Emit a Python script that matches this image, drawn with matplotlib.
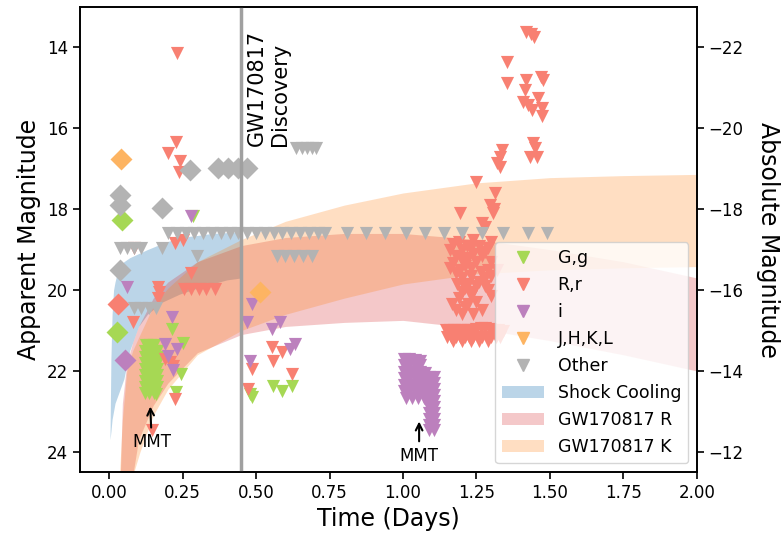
import matplotlib
matplotlib.use("Agg")
import matplotlib.pyplot as plt
from matplotlib.lines import Line2D
from matplotlib.patches import Patch

# offset between apparent and absolute magnitude used on the right axis
dist_mod = 36.0

# ---- model bands ----
sc_t     = [0.003, 0.006, 0.01, 0.015, 0.02, 0.03, 0.05, 0.07, 0.1, 0.13, 0.18, 0.24, 0.3, 0.35, 0.4, 0.45]
sc_upper = [23.6, 21.7, 20.6, 20.0, 19.8, 19.5, 19.3, 19.2, 19.1, 19.0, 18.85, 18.7, 18.65, 18.6, 18.58, 18.55]
sc_lower = [23.7, 23.5, 23.2, 23.0, 22.8, 22.6, 22.2, 21.5, 20.9, 20.6, 20.3, 20.1, 19.95, 19.85, 19.75, 19.7]

r_t     = [0.038, 0.045, 0.06, 0.08, 0.1, 0.15, 0.2, 0.3, 0.45, 0.6, 0.8, 1.0, 1.25, 1.5, 1.75, 2.0]
r_upper = [24.6, 22.8, 21.8, 21.3, 20.9, 20.2, 19.8, 19.3, 18.9, 18.7, 18.6, 18.6, 18.75, 19.0, 19.3, 19.7]
r_lower = [24.6, 24.6, 24.6, 24.6, 23.7, 22.85, 22.3, 21.55, 21.1, 20.9, 20.8, 20.75, 20.95, 21.25, 21.6, 22.0]

k_t     = [0.035, 0.045, 0.06, 0.08, 0.105, 0.15, 0.2, 0.3, 0.45, 0.6, 0.8, 1.0, 1.25, 1.5, 1.75, 2.0]
k_upper = [24.6, 23.2, 22.0, 21.5, 21.1, 20.4, 19.95, 19.3, 18.75, 18.3, 17.9, 17.6, 17.35, 17.22, 17.17, 17.14]
k_lower = [24.6, 24.6, 24.6, 24.6, 24.0, 23.1, 22.45, 21.6, 21.0, 20.6, 20.2, 19.85, 19.6, 19.5, 19.45, 19.42]

# ---- photometry: triangles = limits, diamonds = detections ----
g_lim = [(0.125, 21.35), (0.138, 21.35), (0.152, 21.35),
         (0.122, 21.5), (0.137, 21.5), (0.152, 21.5), (0.163, 21.5),
         (0.122, 21.65), (0.137, 21.65), (0.152, 21.65), (0.163, 21.65),
         (0.122, 21.8), (0.137, 21.8), (0.152, 21.8), (0.163, 21.8),
         (0.122, 21.95), (0.137, 21.95), (0.152, 21.95), (0.163, 21.95),
         (0.122, 22.1), (0.137, 22.1), (0.152, 22.1), (0.163, 22.1),
         (0.122, 22.25), (0.137, 22.25), (0.152, 22.25), (0.163, 22.25),
         (0.122, 22.4), (0.137, 22.4), (0.152, 22.4), (0.163, 22.4),
         (0.122, 22.55), (0.137, 22.55), (0.152, 22.55), (0.16, 22.58),
         (0.285, 18.18), (0.213, 20.97), (0.253, 21.3), (0.243, 22.08), (0.228, 22.53),
         (0.487, 22.65), (0.48, 22.58), (0.558, 22.38), (0.589, 22.5), (0.622, 22.38)]
g_det = [(0.044, 18.26), (0.026, 21.03)]

r_lim = [(0.23, 14.13), (0.227, 16.33), (0.2, 16.6), (0.24, 16.8), (0.238, 17.07),
         (0.083, 18.96), (0.225, 18.83), (0.25, 18.75), (0.28, 19.57),
         (0.165, 19.93), (0.17, 20.05), (0.165, 20.2),
         (0.255, 19.98), (0.28, 19.98), (0.305, 19.98), (0.33, 19.98), (0.36, 19.98),
         (0.08, 20.78), (0.19, 21.7), (0.207, 21.77), (0.218, 21.88), (0.224, 22.7), (0.145, 23.45),
         (0.554, 21.41), (0.589, 21.54), (0.558, 21.76), (0.487, 21.96), (0.622, 22.08), (0.473, 22.45),
         # late cluster
         (1.42, 13.62), (1.435, 13.68), (1.445, 13.75), (1.353, 14.35), (1.47, 14.72), (1.475, 14.8),
         (1.353, 14.87), (1.418, 14.8), (1.415, 15.05), (1.41, 15.34), (1.425, 15.42), (1.44, 15.54),
         (1.46, 15.24), (1.473, 15.5), (1.473, 15.7), (1.443, 16.36), (1.448, 16.48), (1.432, 16.7),
         (1.456, 16.72), (1.337, 16.53), (1.33, 16.7), (1.32, 16.85), (1.33, 16.95), (1.25, 17.33),
         (1.313, 17.6), (1.296, 17.89), (1.31, 18.0), (1.305, 18.1), (1.194, 18.09), (1.27, 18.34),
         (1.28, 18.45), (1.16, 19.0), (1.217, 18.92), (1.26, 18.9), (1.29, 18.95), (1.17, 19.32),
         (1.21, 19.4), (1.25, 19.3), (1.18, 19.57), (1.23, 19.65), (1.26, 19.8), (1.25, 19.9),
         (1.29, 19.99), (1.2, 20.06), (1.167, 20.35), (1.21, 20.43), (1.22, 19.2), (1.3, 19.3),
         (1.32, 19.5), (1.19, 18.8), (1.24, 18.75), (1.3, 18.8), (1.18, 19.15), (1.2, 19.25),
         (1.24, 19.1), (1.27, 19.15), (1.29, 19.5), (1.2, 19.7), (1.22, 19.85), (1.28, 19.7),
         (1.19, 20.2), (1.23, 20.15), (1.25, 20.3), (1.3, 20.15), (1.27, 20.5),
         (1.17, 18.85), (1.2, 19.0), (1.23, 18.95), (1.28, 19.05), (1.16, 19.45), (1.195, 19.5),
         (1.23, 19.45), (1.265, 19.55), (1.3, 19.65), (1.185, 19.85), (1.21, 19.95), (1.24, 20.05),
         (1.28, 19.9), (1.18, 20.5), (1.2, 20.6), (1.24, 20.6), (1.22, 20.35),
         # blob near 21 mag
         (1.145, 21.0), (1.16, 21.0), (1.175, 21.0), (1.19, 21.0), (1.205, 21.0), (1.22, 21.0),
         (1.235, 21.0), (1.25, 20.97), (1.265, 20.95), (1.28, 20.95), (1.295, 20.97), (1.31, 21.0),
         (1.325, 21.0), (1.34, 21.02),
         (1.15, 21.15), (1.165, 21.15), (1.18, 21.15), (1.195, 21.15), (1.21, 21.15), (1.225, 21.15),
         (1.24, 21.15), (1.255, 21.15), (1.27, 21.15), (1.285, 21.15), (1.3, 21.15), (1.315, 21.15),
         (1.33, 21.15), (1.17, 21.27), (1.2, 21.27), (1.23, 21.27), (1.26, 21.27), (1.29, 21.25)]
r_det = [(0.03, 20.35)]

i_lim = [(0.278, 18.18), (0.06, 19.93), (0.213, 20.67), (0.19, 21.34), (0.23, 21.46), (0.2, 21.64),
         (0.218, 21.97), (0.487, 20.35), (0.469, 20.78), (0.58, 20.78), (0.554, 20.97),
         (0.633, 21.34), (0.615, 21.46), (0.48, 21.76),
         # blob around one day
         (1.005, 21.7), (1.022, 21.7), (1.04, 21.72), (1.058, 21.75),
         (1.005, 21.86), (1.022, 21.86), (1.04, 21.86), (1.058, 21.86),
         (1.005, 22.02), (1.022, 22.02), (1.04, 22.02), (1.058, 22.02), (1.075, 22.05),
         (1.005, 22.18), (1.022, 22.18), (1.04, 22.18), (1.058, 22.18), (1.075, 22.2),
         (1.005, 22.34), (1.022, 22.34), (1.04, 22.34), (1.058, 22.34), (1.075, 22.34),
         (1.005, 22.5), (1.022, 22.5), (1.04, 22.5), (1.058, 22.5), (1.075, 22.5),
         (1.01, 22.66), (1.03, 22.66), (1.05, 22.66), (1.07, 22.66),
         (1.09, 22.15), (1.107, 22.15), (1.09, 22.3), (1.107, 22.3), (1.09, 22.45), (1.107, 22.45),
         (1.09, 22.6), (1.107, 22.6), (1.09, 22.75), (1.107, 22.75), (1.09, 22.9), (1.107, 22.9),
         (1.09, 23.05), (1.107, 23.05), (1.09, 23.2), (1.107, 23.2), (1.09, 23.33), (1.107, 23.33),
         (1.09, 23.45), (1.107, 23.45)]
i_det = [(0.055, 21.72)]

ir_lim = []
ir_det = [(0.04, 16.75), (0.514, 20.06)]

o_lim = [(0.635, 16.48), (0.655, 16.48), (0.675, 16.48), (0.69, 16.48), (0.705, 16.48),
         (0.20, 18.58), (0.23, 18.58), (0.26, 18.58), (0.29, 18.58), (0.32, 18.58), (0.35, 18.58),
         (0.38, 18.58), (0.41, 18.58), (0.44, 18.58), (0.47, 18.58), (0.50, 18.58), (0.53, 18.58),
         (0.56, 18.58), (0.59, 18.58), (0.62, 18.58), (0.65, 18.58), (0.68, 18.58), (0.71, 18.58),
         (0.735, 18.58), (0.81, 18.58), (0.875, 18.58), (0.94, 18.58), (1.01, 18.58), (1.075, 18.58),
         (1.14, 18.58), (1.20, 18.58), (1.27, 18.58), (1.34, 18.58), (1.425, 18.58), (1.49, 18.58),
         (0.037, 18.96), (0.06, 18.96), (0.085, 18.96), (0.11, 18.96), (0.18, 18.96),
         (0.57, 19.17), (0.60, 19.17), (0.63, 19.17), (0.66, 19.17), (0.69, 19.17), (0.3, 19.17),
         (0.085, 20.45), (0.11, 20.45), (0.135, 20.45), (0.16, 20.45)]
o_det = [(0.037, 17.64), (0.037, 17.9), (0.18, 17.97), (0.275, 17.02), (0.37, 16.98),
         (0.405, 16.98), (0.44, 16.98), (0.47, 16.98), (0.037, 19.5)]

filters = [("G,g", "#a6d854", g_lim, g_det),
           ("R,r", "#f88072", r_lim, r_det),
           ("i", "#bc80bd", i_lim, i_det),
           ("J,H,K,L", "#fdb462", ir_lim, ir_det),
           ("Other", "#b3b3b3", o_lim, o_det)]

discovery_t = 0.45

fig = plt.figure(figsize=(7.82, 5.37), dpi=100)
ax = fig.add_axes([0.102, 0.121, 0.789, 0.866])

ax.fill_between(sc_t, sc_upper, sc_lower, color="#1f77b4", alpha=0.3, lw=0, zorder=1)
ax.fill_between(r_t, r_upper, r_lower, color="#d62728", alpha=0.25, lw=0, zorder=1)
ax.fill_between(k_t, k_upper, k_lower, color="#ff7f0e", alpha=0.25, lw=0, zorder=1)

for name, col, lim, det in filters:
    if lim:
        ax.scatter([p[0] for p in lim], [p[1] for p in lim], marker="v", s=90, color=col, lw=0, zorder=3)
    if det:
        ax.scatter([p[0] for p in det], [p[1] for p in det], marker="D", s=125, color=col, lw=0, zorder=3)

ax.axvline(discovery_t, color="#a0a0a0", lw=2.5, zorder=4)
ax.text(0.47, 16.45, "GW170817\nDiscovery", rotation=90, ha="left", va="bottom", fontsize=15)

ax.annotate("MMT", xy=(0.14, 22.88), xytext=(0.145, 23.76), ha="center", va="center", fontsize=12,
            arrowprops=dict(arrowstyle="->", color="k", lw=1.5, shrinkA=2, shrinkB=0))
ax.annotate("MMT", xy=(1.055, 23.25), xytext=(1.055, 24.1), ha="center", va="center", fontsize=12,
            arrowprops=dict(arrowstyle="->", color="k", lw=1.5, shrinkA=2, shrinkB=0))

ax.set_xlim(-0.1, 2.0)
ax.set_ylim(24.5, 13.0)
ax.set_xticks([0, 0.25, 0.5, 0.75, 1.0, 1.25, 1.5, 1.75, 2.0])
ax.set_xticklabels(["0.00", "0.25", "0.50", "0.75", "1.00", "1.25", "1.50", "1.75", "2.00"])
ax.set_yticks([14, 16, 18, 20, 22, 24])
ax.set_xlabel("Time (Days)", fontsize=17)
ax.set_ylabel("Apparent Magnitude", fontsize=17)
ax.tick_params(labelsize=12, length=5, width=1.2)

ax2 = ax.twinx()
ax2.set_ylim(24.5 - dist_mod, 13.0 - dist_mod)
ax2.set_yticks([-22, -20, -18, -16, -14, -12])
ax2.set_ylabel("Absolute Magnitude", fontsize=17, rotation=270, labelpad=26)
ax2.tick_params(labelsize=12, length=5, width=1.2)
for a in (ax, ax2):
    for sp in a.spines.values():
        sp.set_linewidth(1.2)

handles = [Line2D([], [], marker="v", ls="", color=f[1], markersize=8) for f in filters]
handles += [Patch(facecolor="#1f77b4", alpha=0.3, label="Shock Cooling"),
            Patch(facecolor="#d62728", alpha=0.25, label="GW170817 R"),
            Patch(facecolor="#ff7f0e", alpha=0.25, label="GW170817 K")]
labels = [f[0] for f in filters] + ["Shock Cooling", "GW170817 R", "GW170817 K"]
ax2.legend(handles, labels, loc="lower right", fontsize=12.5, handlelength=2.4, labelspacing=0.52)

fig.savefig("out.png", dpi=100)
